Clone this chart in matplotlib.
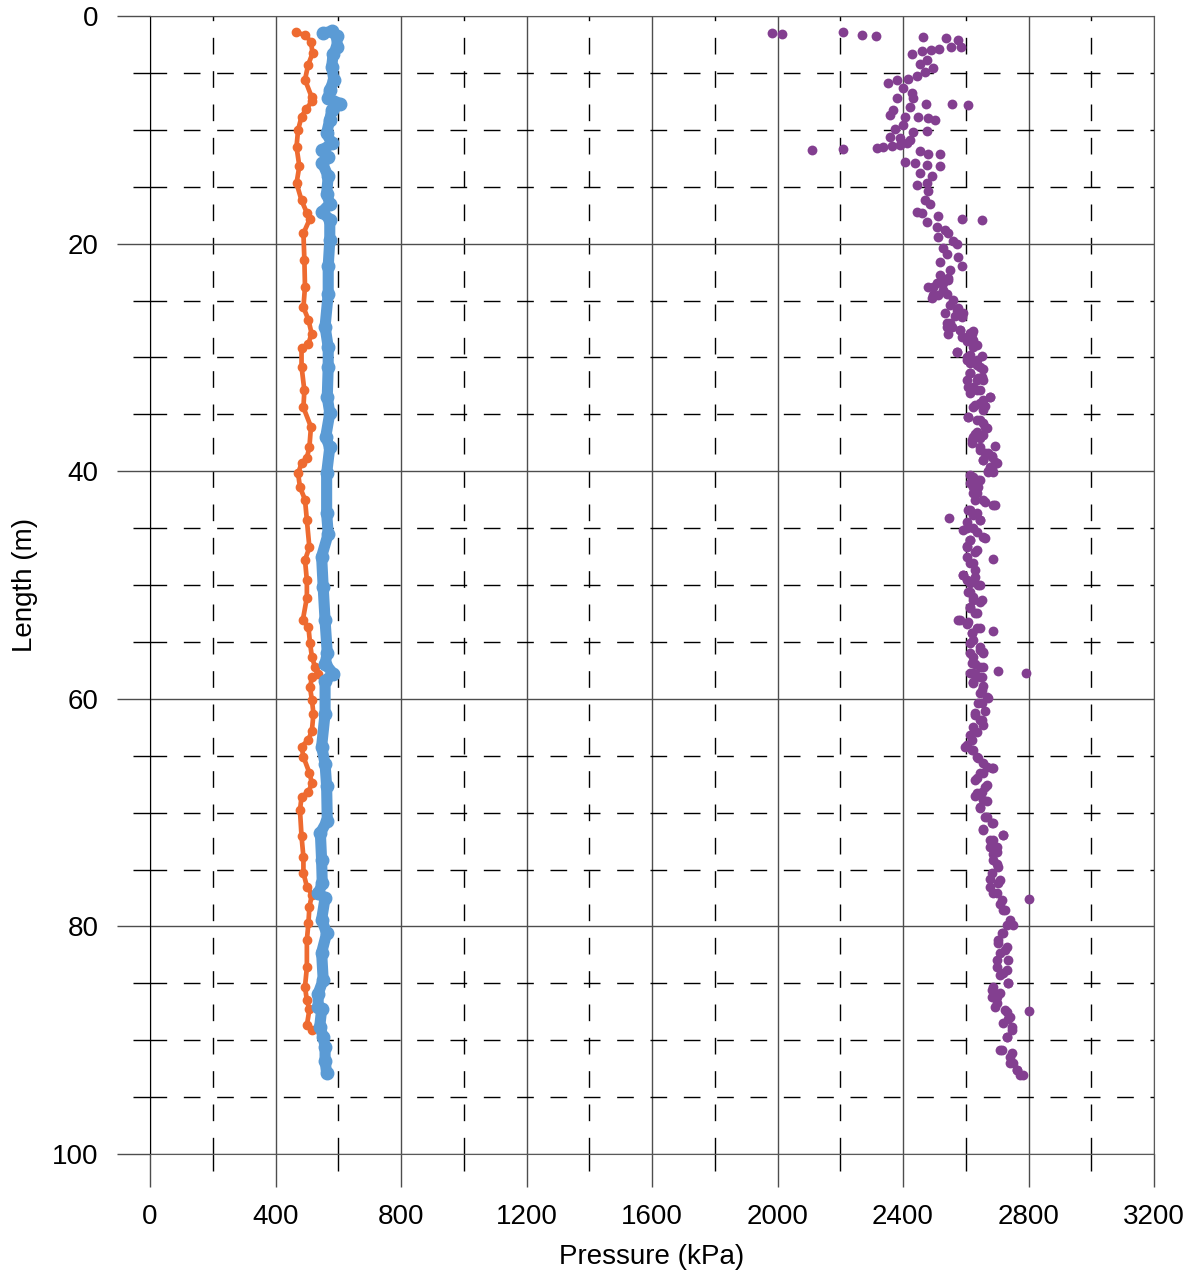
import numpy as np
import matplotlib
matplotlib.use("Agg")
import matplotlib.pyplot as plt
from matplotlib.ticker import MultipleLocator

plt.rcParams['font.family'] = ['Liberation Sans', 'DejaVu Sans']

# orange series (kPa vs length)
orange_depth = [1.43, 1.67, 2.26, 3.28, 4.3, 5.6, 7.1, 7.5, 8.2, 8.85,
                10.0, 11.5, 13.2, 14.7, 16.2, 17.3, 17.8, 19.1, 21.4, 23.8,
                25.6, 26.7, 27.9, 28.8, 29.2, 30.8, 32.9, 34.4, 36.1, 37.9,
                38.8, 39.3, 40.2, 41.4, 42.5, 44.3, 46.7, 47.8, 49.6, 51.1,
                53.1, 53.7, 55.1, 56.3, 57.2, 57.8, 58.1, 59.0, 60.1, 61.3,
                62.8, 63.6, 64.2, 65.1, 66.5, 67.4, 68.2, 68.6, 69.8, 72.1,
                73.9, 75.3, 76.5, 77.2, 78.3, 79.7, 81.2, 83.6, 85.3, 86.5,
                87.3, 88.7, 89.1]
orange_kpa = [464, 494, 513, 518, 504, 494, 515, 516, 497, 483,
              472, 467, 476, 467, 483, 500, 510, 489, 492, 494,
              489, 505, 515, 505, 483, 483, 492, 489, 513, 508,
              500, 483, 472, 478, 494, 500, 508, 494, 500, 500,
              487, 505, 510, 516, 526, 537, 516, 510, 516, 521,
              516, 505, 483, 489, 508, 516, 505, 483, 478, 483,
              489, 489, 500, 516, 508, 505, 500, 500, 494, 500,
              508, 500, 516]

# blue series
blue_depth = [1.5, 1.35, 1.8, 2.7, 3.3, 4.45, 5.6, 6.5, 7.2, 7.7,
              8.3, 9.1, 10.3, 11.2, 11.8, 12.4, 12.9, 14.1, 15.6, 16.5,
              17.2, 17.9, 19.7, 22.0, 24.4, 27.3, 29.1, 30.8, 33.5, 34.9,
              37.0, 37.9, 40.2, 43.7, 45.5, 47.5, 50.2, 53.1, 56.0, 56.9,
              57.8, 58.4, 61.3, 64.2, 65.7, 67.7, 70.7, 71.8, 74.2, 76.2,
              77.1, 77.5, 79.4, 80.6, 82.3, 84.7, 85.9, 87.1, 87.3, 88.8,
              89.7, 90.6, 91.8, 92.9]
blue_kpa = [552, 579, 595, 597, 584, 579, 586, 573, 568, 605,
            579, 573, 563, 579, 549, 568, 549, 568, 563, 573,
            549, 573, 573, 568, 568, 558, 568, 568, 565, 573,
            560, 573, 563, 563, 568, 547, 552, 558, 565, 558,
            584, 558, 558, 547, 558, 563, 565, 543, 547, 549,
            537, 558, 547, 563, 547, 552, 536, 536, 547, 541,
            552, 558, 558, 563]

# purple series (scattered readings)
purple_depth = [1.47, 1.58, 1.41, 1.67, 1.76, 1.87, 1.96, 2.7, 2.1, 2.7,
                2.93, 3.0, 3.1, 3.3, 3.9, 4.2, 4.6, 4.9, 5.3, 5.5,
                5.9, 5.6, 6.35, 6.8, 7.2, 7.2, 8.0, 7.7, 7.7, 7.8,
                8.3, 8.7, 8.85, 8.9, 9.0, 9.1, 9.6, 9.9, 10.1, 10.2,
                10.6, 10.75, 10.9, 11.2, 11.8, 11.7, 11.6, 11.5, 11.4, 11.3,
                11.9, 12.1, 12.1, 12.8, 12.9, 13.1, 13.2, 13.8, 14.1, 14.7,
                14.85, 15.4, 16.2, 16.5, 17.2, 17.3, 17.8, 17.9, 18.1, 17.6,
                18.5, 18.8, 19.1, 19.4, 20.0, 19.8, 20.4, 20.9, 21.15, 21.6,
                22.0, 22.3, 22.8, 23.05, 23.5, 23.8, 24.1, 24.5, 24.4,
                24.8, 25.4, 25.7, 26.1, 26.4, 27.0, 27.3, 27.6, 27.9, 28.2,
                27.9, 27.7, 28.6, 29.1, 29.5, 29.8, 29.9, 30.2, 30.7, 31.0,
                31.4, 31.85, 32.0, 32.6, 32.9, 33.45, 33.75, 34.2, 34.3, 35.2,
                35.5, 35.8, 36.2, 36.7, 37.3, 37.1, 37.8, 38.1, 38.4, 38.7,
                39.0, 39.3, 39.7, 40.0, 40.3, 40.75, 41.4, 41.9, 42.5, 42.7,
                43.0, 43.4, 43.85, 44.1, 44.3, 45.0, 45.3, 45.9, 46.05, 46.6,
                47.1, 47.7, 48.1, 49.1, 48.7, 49.6, 50.0, 50.6, 51.3, 51.5,
                52.05, 52.5, 53.1, 53.4, 53.8, 54.0, 54.25, 55.1, 55.7, 56.3,
                56.0, 56.9, 57.2, 57.8, 57.6, 57.7,
                58.05, 58.5, 58.9, 59.5, 59.95, 60.4, 61.1, 61.4, 61.9, 62.3,
                62.9, 63.6, 64.1, 64.5, 65.2, 65.96, 66.1, 66.5, 67.0, 67.6,
                68.2, 68.5, 69.0, 69.6, 70.4, 70.9, 71.4, 72.0, 72.4, 73.0,
                73.6, 74.5, 75.8, 76.2, 77.1, 77.6, 78.0, 78.6, 79.9, 80.6,
                81.5, 82.1, 82.95, 83.8, 84.3, 84.95, 85.6, 86.2, 87.1, 87.5,
                87.45, 88.1, 88.8, 89.7, 90.9, 91.15, 92.0, 92.6, 93.1,
                # second pass, 23-58 m
                23.79, 23.49, 23.2, 24.52, 24.96, 26.13, 25.84, 26.42, 27.01, 27.30,
                27.59, 27.89, 28.18, 28.47, 28.91, 29.50, 29.94, 30.23, 30.82, 30.52,
                31.40, 31.69, 31.99, 31.99, 32.57, 32.87, 33.16, 33.45, 34.04, 34.33,
                34.62, 35.21, 35.50, 36.09, 36.53, 36.97, 36.82, 37.55, 37.85, 38.43,
                38.72, 39.02, 39.16, 39.60, 40.04, 40.04, 40.48, 40.77, 41.07, 41.36,
                41.95, 42.53, 42.97, 43.41, 43.70, 44.43, 44.29, 45.02, 45.17, 45.75,
                46.05, 46.63, 46.92, 47.51, 48.10, 49.12, 49.27, 49.85, 50.00, 50.59,
                51.03, 51.32, 51.90, 52.49, 53.08, 53.22, 53.81, 54.25, 54.83, 55.42,
                56.00, 55.86, 56.88, 57.18, 57.76,
                # second pass, 58-93 m
                57.76, 58.06, 58.64, 59.23, 59.81, 60.40, 61.28, 61.86, 62.45, 63.18,
                64.21, 64.50, 65.09, 65.67, 66.11, 66.55, 67.14, 67.72, 68.31, 68.89,
                69.48, 70.36, 70.94, 71.53, 71.97, 72.41, 72.99, 73.43, 74.17, 74.75,
                75.34, 75.92, 76.51, 77.09, 77.68, 78.56, 79.44, 79.88, 80.61, 81.19,
                81.78, 82.37, 82.95, 83.54, 84.12, 85.00, 85.30, 85.88, 86.17, 86.76,
                87.35, 87.93, 88.52, 89.10, 89.69, 90.86, 91.45, 92.03, 92.62, 93.06]
purple_kpa = [1981, 2013, 2210, 2270, 2313, 2463, 2537, 2552, 2576, 2584,
              2516, 2488, 2460, 2428, 2476, 2454, 2497, 2470, 2444, 2417,
              2353, 2380, 2401, 2428, 2433, 2380, 2422, 2473, 2556, 2606,
              2369, 2359, 2406, 2449, 2481, 2502, 2401, 2375, 2476, 2433,
              2359, 2390, 2422, 2412, 2109, 2209, 2316, 2337, 2364, 2390,
              2454, 2481, 2518, 2406, 2438, 2476, 2518, 2454, 2491, 2476,
              2444, 2481, 2470, 2486, 2444, 2460, 2587, 2653, 2476, 2513,
              2507, 2534, 2544, 2513, 2571, 2560, 2528, 2539, 2576, 2518,
              2587, 2550, 2518, 2544, 2507, 2481, 2528, 2497, 2539,
              2491, 2550, 2576, 2592, 2566, 2539, 2555, 2582, 2544, 2587,
              2619, 2624, 2603, 2624, 2571, 2614, 2651, 2603, 2635, 2656,
              2614, 2640, 2656, 2608, 2635, 2677, 2656, 2630, 2661, 2608,
              2635, 2656, 2667, 2630, 2619, 2645, 2693, 2645, 2672, 2683,
              2656, 2699, 2683, 2672, 2614, 2640, 2624, 2635, 2630, 2661,
              2693, 2608, 2624, 2548, 2645, 2603, 2635, 2661, 2614, 2603,
              2630, 2686, 2614, 2592, 2630, 2603, 2640, 2614, 2624, 2645,
              2614, 2630, 2576, 2603, 2635, 2688, 2619, 2614, 2645, 2624,
              2656, 2630, 2656, 2630, 2704, 2791,
              2651, 2624, 2656, 2645, 2672, 2651, 2661, 2630, 2645, 2656,
              2635, 2619, 2603, 2619, 2640, 2667, 2688, 2656, 2635, 2667,
              2651, 2630, 2667, 2645, 2661, 2688, 2656, 2720, 2677, 2699,
              2688, 2699, 2677, 2704, 2688, 2802, 2709, 2720, 2752, 2720,
              2704, 2725, 2699, 2731, 2709, 2736, 2683, 2699, 2693, 2731,
              2802, 2736, 2747, 2731, 2709, 2747, 2741, 2762, 2784,
              # second pass, 23-58 m
              2497, 2528, 2544, 2513, 2560, 2534, 2571, 2587, 2550, 2539,
              2582, 2613, 2603, 2624, 2635, 2571, 2603, 2635, 2645, 2613,
              2613, 2651, 2635, 2603, 2624, 2645, 2613, 2677, 2645, 2624,
              2656, 2608, 2645, 2661, 2635, 2624, 2656, 2619, 2645, 2661,
              2683, 2656, 2693, 2677, 2688, 2672, 2624, 2645, 2613, 2640,
              2624, 2656, 2688, 2613, 2635, 2603, 2645, 2624, 2592, 2656,
              2613, 2603, 2635, 2603, 2624, 2592, 2629, 2613, 2645, 2608,
              2624, 2651, 2613, 2635, 2582, 2608, 2645, 2619, 2624, 2645,
              2613, 2656, 2619, 2645, 2624,
              # second pass, 58-93 m
              2614, 2645, 2624, 2651, 2667, 2640, 2630, 2651, 2624, 2614,
              2598, 2624, 2635, 2656, 2683, 2645, 2630, 2661, 2635, 2656,
              2645, 2667, 2683, 2656, 2720, 2688, 2677, 2699, 2688, 2704,
              2683, 2709, 2677, 2699, 2715, 2725, 2741, 2730, 2715, 2704,
              2730, 2709, 2736, 2699, 2720, 2736, 2688, 2709, 2683, 2699,
              2725, 2741, 2720, 2746, 2730, 2715, 2741, 2752, 2762, 2773]

fig = plt.figure(figsize=(11.98, 12.72), dpi=100)
ax = fig.add_axes([150 / 1198, 1 - 1154 / 1272, 1004 / 1198, 1138 / 1272])

ax.plot(orange_kpa, orange_depth, '-o', color='#EE6A30', lw=3.4, ms=6,
        solid_joinstyle='round', solid_capstyle='round', zorder=3)
ax.plot(blue_kpa, blue_depth, '-o', color='#5B9BD5', lw=8.0, ms=9,
        solid_joinstyle='round', solid_capstyle='round', zorder=3)
ax.scatter(purple_kpa, purple_depth, s=50, color='#833F90', lw=0, zorder=3)

ax.set_xlim(0, 3200)
ax.set_ylim(100, 0)
ax.xaxis.set_major_locator(MultipleLocator(400))
ax.xaxis.set_minor_locator(MultipleLocator(200))
ax.yaxis.set_major_locator(MultipleLocator(20))
ax.yaxis.set_minor_locator(MultipleLocator(5))

ax.grid(which='major', color='#4d4d4d', lw=1.0, zorder=0)
ax.grid(which='minor', color='black', lw=1.0, ls=(0, (12, 12)), zorder=0)
ax.set_axisbelow(True)

ax.tick_params(which='major', direction='out', length=24, width=1.0,
               color='#4d4d4d', labelsize=20, pad=12)
ax.tick_params(which='minor', direction='out', length=12, width=1.0,
               color='black')
ax.tick_params(axis='y', which='major', pad=13)

for side in ['top', 'right', 'bottom']:
    ax.spines[side].set_color('#595959')
ax.spines['left'].set_color('black')

ax.set_xlabel('Pressure (kPa)', fontsize=20, labelpad=10)
ax.set_ylabel('Length (m)', fontsize=20, labelpad=10)

plt.savefig('out.png', dpi=100)
